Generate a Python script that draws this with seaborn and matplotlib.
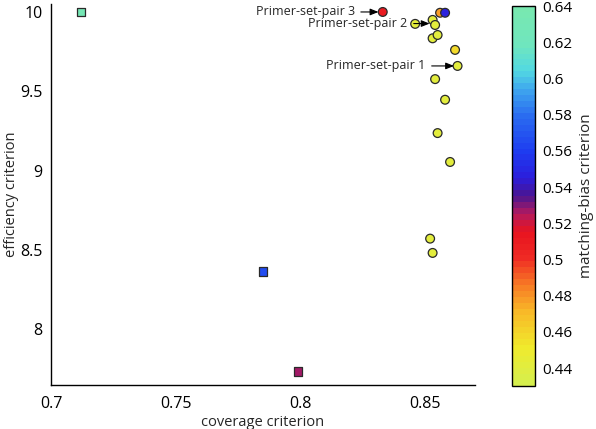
import matplotlib
matplotlib.use("Agg")
import matplotlib.pyplot as plt
import matplotlib.colors as mcolors
import seaborn as sns
import pandas as pd

# values
coverage = [0.712, 0.785, 0.799,
            0.833, 0.856, 0.858, 0.846, 0.853, 0.854, 0.853, 0.855,
            0.862, 0.863, 0.854, 0.858, 0.855, 0.860, 0.852, 0.853]
efficiency = [10.0, 8.365, 7.737,
              10.0, 9.995, 9.995, 9.925, 9.95, 9.918, 9.834, 9.855,
              9.761, 9.66, 9.577, 9.447, 9.237, 9.055, 8.572, 8.482]
bias = [0.632, 0.565, 0.526,
        0.51, 0.478, 0.545, 0.44, 0.44, 0.44, 0.44, 0.44,
        0.458, 0.44, 0.44, 0.44, 0.44, 0.44, 0.44, 0.44]
kind = ['square'] * 3 + ['circle'] * 16

# annotation text: label, text anchor (right end) and arrow tip in data units
labels = ['Primer-set-pair 1', 'Primer-set-pair 2', 'Primer-set-pair 3']
label_text_xy = [(0.8502, 9.66), (0.8430, 9.927), (0.8218, 10.0)]
label_tip_xy = [(0.8616, 9.66), (0.8518, 9.927), (0.8313, 10.0)]

cb_ticks = [0.44, 0.46, 0.48, 0.5, 0.52, 0.54, 0.56, 0.58, 0.6, 0.62, 0.64]

df = pd.DataFrame({'coverage': coverage, 'efficiency': efficiency,
                   'bias': bias, 'kind': kind})

stops = [(0.43, '#d6ef4e'), (0.45, '#f0ea2c'), (0.47, '#f8b928'),
         (0.485, '#f77a25'), (0.50, '#ef2a24'), (0.515, '#e8141f'),
         (0.525, '#b41a5e'), (0.535, '#4a1590'), (0.545, '#2c1edc'),
         (0.56, '#1e3cf0'), (0.58, '#2a6cf0'), (0.595, '#3fa8ee'),
         (0.605, '#52d8e2'), (0.62, '#6fe6be'), (0.64, '#78e8b0')]
lo, hi = 0.43, 0.64
cmap = mcolors.LinearSegmentedColormap.from_list(
    'bias', [((v - lo) / (hi - lo), c) for v, c in stops], N=64)
norm = mcolors.Normalize(lo, hi)

sns.set_style('white')
plt.rcParams['font.family'] = ['Open Sans', 'DejaVu Sans']

fig = plt.figure(figsize=(5.96, 4.29), dpi=100)
ax = fig.add_axes([0.0856, 0.1026, 0.7114, 0.888])

sns.scatterplot(data=df, x='coverage', y='efficiency', hue='bias',
                palette=cmap, hue_norm=norm, style='kind',
                markers={'square': 's', 'circle': 'o'}, s=40,
                edgecolor='#2a2a2a', linewidth=0.9, legend=False, ax=ax)

ax.set_xlim(0.7, 0.87)
ax.set_ylim(7.65, 10.05)
ax.set_xticks([0.7, 0.75, 0.8, 0.85])
ax.set_xticklabels(['0.7', '0.75', '0.8', '0.85'])
ax.set_yticks([8, 8.5, 9, 9.5, 10])
ax.set_yticklabels(['8', '8.5', '9', '9.5', '10'])
for s in ['top', 'right']:
    ax.spines[s].set_visible(False)
for s in ['left', 'bottom']:
    ax.spines[s].set_color('black')
    ax.spines[s].set_linewidth(1.0)
ax.tick_params(direction='in', length=3, width=0.8, labelsize=11.5,
               colors='black')
ax.tick_params(axis='x', pad=8)
ax.tick_params(axis='y', pad=6)
ax.set_xlabel('coverage criterion', fontsize=10.5)
ax.set_ylabel('efficiency criterion', fontsize=10.5)
ax.xaxis.set_label_coords(0.5, -0.079)
ax.yaxis.set_label_coords(-0.076, 0.5)

for lab, txt, tip in zip(labels, label_text_xy, label_tip_xy):
    ax.annotate(lab, xy=tip, xytext=txt, ha='right', va='center',
                fontsize=9,
                arrowprops=dict(arrowstyle='-|>,head_length=0.55,head_width=0.22',
                                color='black', lw=0.8, shrinkA=2, shrinkB=0))

# colorbar, top kept a few pixels below the edge so 0.64 is not clipped
cax = fig.add_axes([0.859, 0.1, 0.0386, 0.886])
sm = plt.cm.ScalarMappable(norm=norm, cmap=cmap)
cb = fig.colorbar(sm, cax=cax, ticks=cb_ticks)
cb.ax.set_yticklabels([f'{t:g}' for t in cb_ticks])
cb.ax.tick_params(direction='in', length=3, width=0.8, labelsize=11,
                  colors='black', pad=5)
cb.outline.set_edgecolor('black')
cb.outline.set_linewidth(1.0)
cb.set_label('matching-bias criterion', fontsize=11, labelpad=5)

fig.savefig('out.png', dpi=100)
